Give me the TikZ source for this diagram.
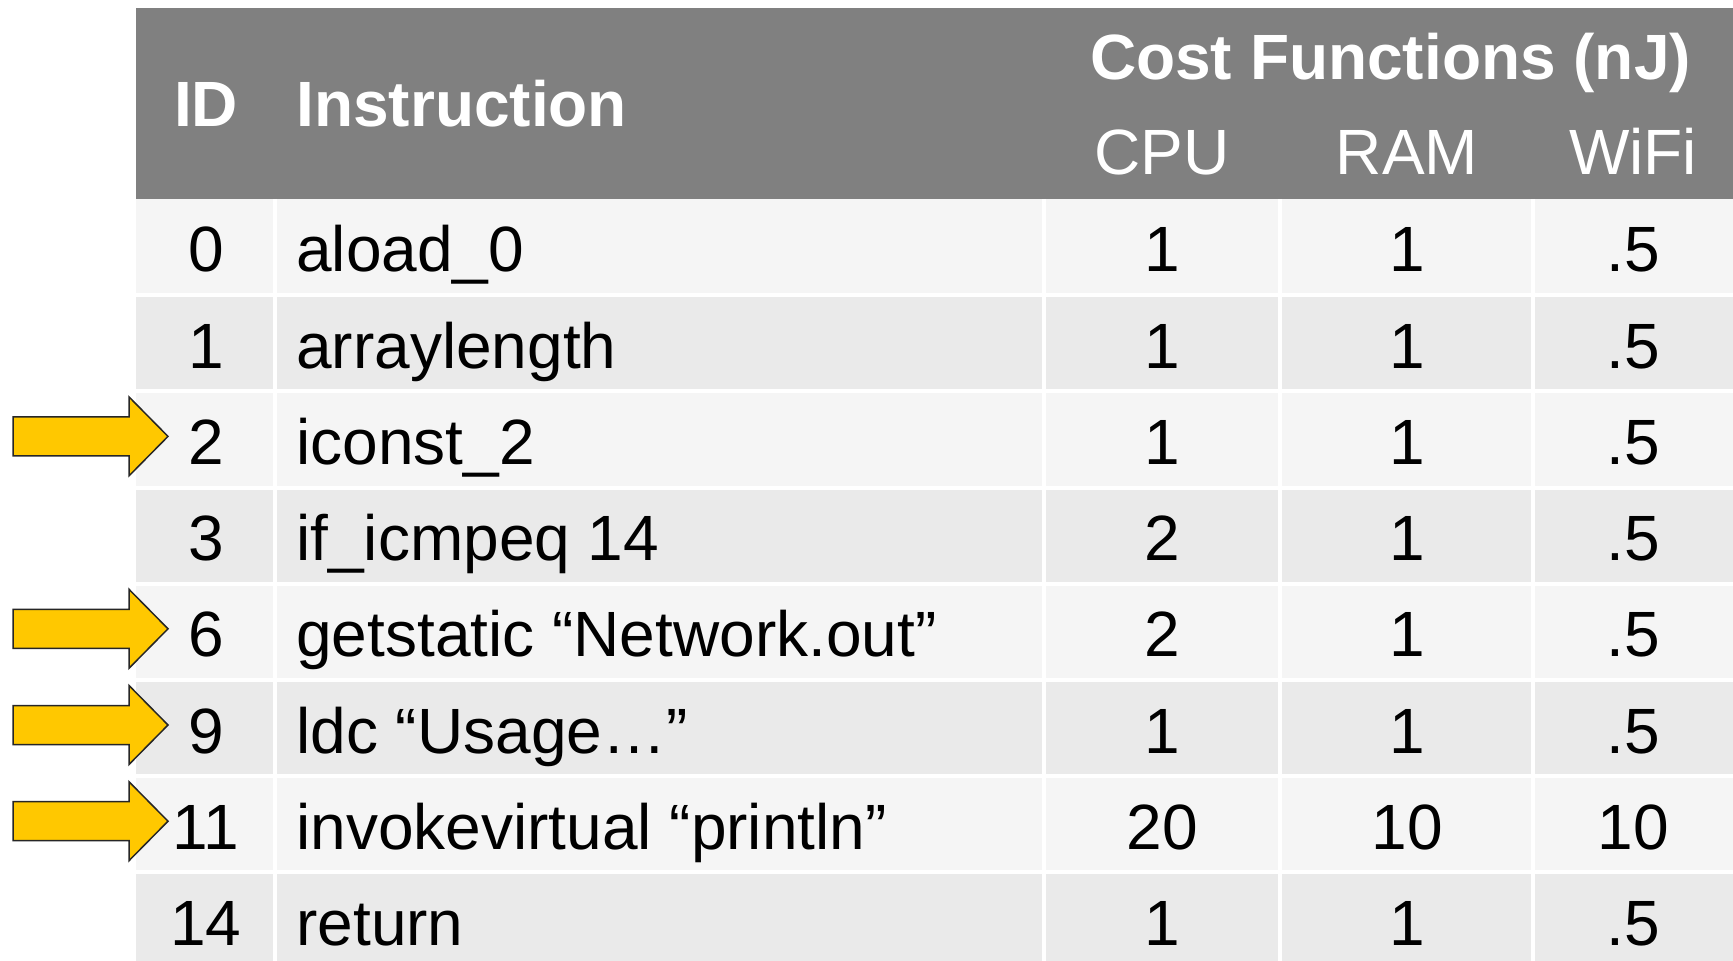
\documentclass[tikz,border=0pt]{standalone}
\usepackage{fontspec}
\setmainfont{Liberation Sans}
\definecolor{hdr}{HTML}{808080}
\definecolor{rowA}{HTML}{F5F5F5}
\definecolor{rowB}{HTML}{EAEAEA}
\definecolor{gold}{HTML}{FFC800}
\newcommand{\goldarrow}[2]{%
  \filldraw[fill=gold,draw=black!85,line width=0.75pt,line join=miter]
    (13,#2-19.5) -- (129,#2-19.5) -- (129,#2-39.5) -- (168,#2)
    -- (129,#2+39.5) -- (129,#2+19.5) -- (13,#2+19.5) -- cycle;
  \coordinate (#1) at (168,#2);}
\begin{document}
\begin{tikzpicture}[x=0.5pt,y=-0.5pt,
  txt/.style={inner sep=0pt,anchor=base,font=\fontsize{32}{36}\selectfont},
  htxt/.style={txt,text=white},
  hbold/.style={htxt,font=\fontsize{32}{36}\selectfont\bfseries},
  sep/.style={white,line width=2pt}]
\useasboundingbox (0,0) rectangle (1733,961);
% header
\fill[hdr] (136,8) rectangle (1733,199);
\node[hbold] (hid) at (206,127) {ID};
\node[hbold,anchor=base west] (hins) at (296,127) {Instruction};
\node[hbold] (hcost) at (1390.5,80) {Cost Functions (nJ)};
\node[htxt] (hcpu) at (1162,175) {CPU};
\node[htxt] (hram) at (1407,175) {RAM};
\node[htxt] (hwifi) at (1633,175) {WiFi};
% rows
\foreach \i/\id/\ins/\c/\r/\w in {
  0/0/aload\_0/1/1/.5,
  1/1/arraylength/1/1/.5,
  2/2/iconst\_2/1/1/.5,
  3/3/if\_icmpeq 14/2/1/.5,
  4/6/getstatic “Network.out”/2/1/.5,
  5/9/ldc “Usage…”/1/1/.5,
  6/11/invokevirtual “println”/20/10/10,
  7/14/return/1/1/.5}{
  \pgfmathsetmacro\rtop{199+96.2*\i}
  \pgfmathsetmacro\rbot{min(199+96.2*(\i+1),961)}
  \pgfmathsetmacro\rbase{\rtop+73}
  \ifodd\i
    \fill[rowB] (136,\rtop) rectangle (1733,\rbot);
  \else
    \fill[rowA] (136,\rtop) rectangle (1733,\rbot);
  \fi
  \node[txt] (id\i) at (206,\rbase) {\id};
  \node[txt,anchor=base west] (ins\i) at (296,\rbase) {\ins};
  \node[txt] (cpu\i) at (1162,\rbase) {\c};
  \node[txt] (ram\i) at (1407,\rbase) {\r};
  \node[txt] (wifi\i) at (1633,\rbase) {\w};
}
% separators
\foreach \x in {275,1044,1280,1533}{
  \draw[sep] (\x,199) -- (\x,961);
}
\foreach \i in {1,...,7}{
  \pgfmathsetmacro\yy{199+96.2*\i}
  \draw[sep] (136,\yy) -- (1733,\yy);
}
% arrows
\goldarrow{a2}{436.4}
\goldarrow{a6}{628.8}
\goldarrow{a9}{725}
\goldarrow{a11}{821.2}
\end{tikzpicture}
\end{document}
